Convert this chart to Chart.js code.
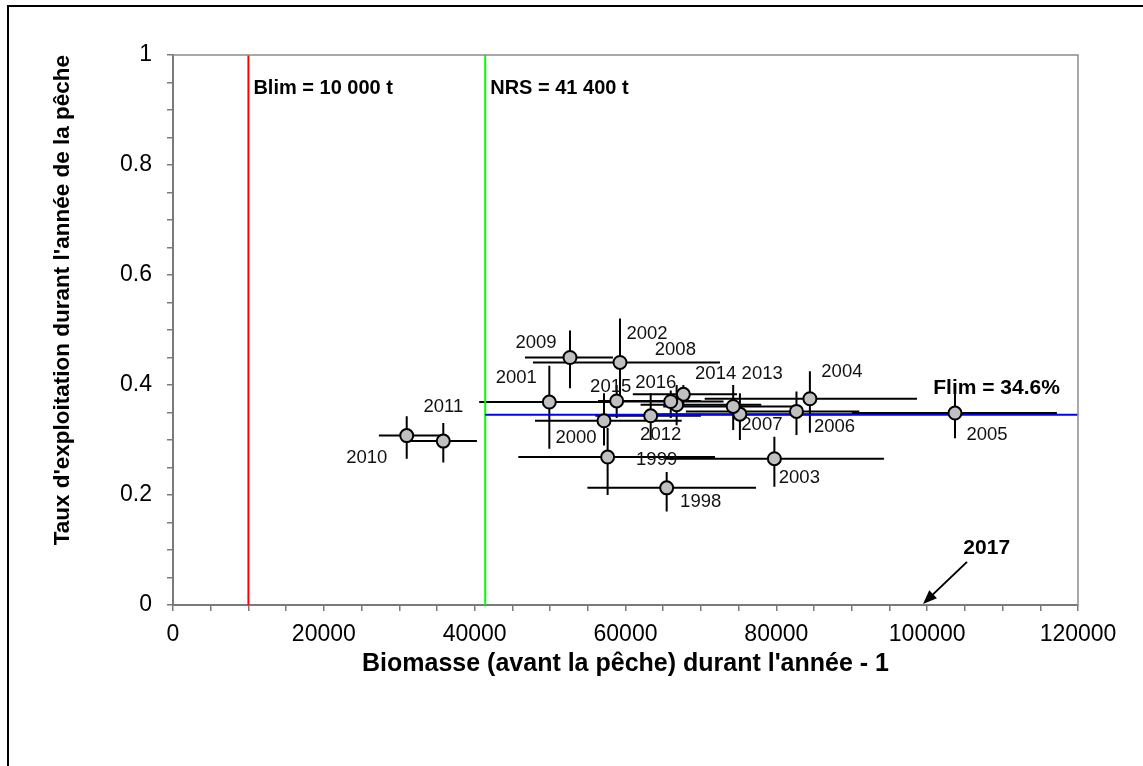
<!DOCTYPE html>
<html>
<head>
<meta charset="utf-8">
<script src="https://cdn.jsdelivr.net/npm/chart.js@4.4.0/dist/chart.umd.min.js"></script>
<style>
  html, body { margin: 0; padding: 0; background: #fff; }
  #wrap { width: 1143px; height: 766px; }
</style>
</head>
<body>
<div id="wrap"><canvas id="grafik" width="1143" height="766"></canvas></div>
<script>
// valeurs
var annees = ['1998', '1999', '2000', '2001', '2002', '2003', '2004', '2005', '2006', '2007',
              '2008', '2009', '2010', '2011', '2012', '2013', '2014', '2015', '2016'];
var biomasse = [65460, 57630, 57150, 49900, 59270, 79740, 84450, 103690, 82670, 75170,
                67670, 52640, 30990, 35840, 63340, 74280, 66780, 58830, 66000];
var taux = [0.213, 0.269, 0.335, 0.369, 0.441, 0.266, 0.375, 0.349, 0.352, 0.347,
            0.383, 0.450, 0.308, 0.298, 0.344, 0.361, 0.364, 0.371, 0.370];
var biomasseBas = [54950, 45790, 48000, 40600, 47730, 65200, 70500, 90000, 68000, 63000,
                   60970, 46670, 27300, 31400, 56000, 65000, 62000, 56350, 59000];
var biomasseHaut = [77300, 71870, 67450, 59300, 72530, 94270, 98650, 117200, 91000, 90000,
                    74780, 58340, 35400, 40300, 70000, 83000, 78000, 70000, 73000];
var tauxBas = [0.170, 0.200, 0.290, 0.284, 0.360, 0.215, 0.313, 0.303, 0.309, 0.300,
               0.360, 0.394, 0.266, 0.259, 0.300, 0.318, 0.327, 0.340, 0.340];
var tauxHaut = [0.242, 0.322, 0.385, 0.435, 0.521, 0.306, 0.425, 0.388, 0.388, 0.385,
                0.400, 0.499, 0.343, 0.331, 0.385, 0.400, 0.400, 0.400, 0.390];

var xTickLabels = ['0', '20000', '40000', '60000', '80000', '100000', '120000'];
var yTickLabels = ['0', '0.2', '0.4', '0.6', '0.8', '1'];

var blim = 10000;
var nrs = 41400;
var flim = 0.346;
var xMax = 120000;
var annee2017 = [99450, 0.002];

// décalage des étiquettes (pixels) par rapport au point
var decalage = [[34, 14], [49, 3], [-28, 17], [-33, -24], [27, -29], [25, 19], [32, -27], [32, 22], [38, 16], [22, 11],
                [-8, -44], [-34, -15], [-40, 22], [0, -34], [10, 19], [29, -33], [39, -31], [-6, -14], [-15, -19]];

var police = "Arial, 'Liberation Sans', sans-serif";

var decor = {
    id: 'decor',
    beforeDraw: function (chart) {
        var ctx = chart.ctx;
        ctx.save();
        ctx.fillStyle = '#fff';
        ctx.fillRect(0, 0, chart.width, chart.height);
        ctx.strokeStyle = '#000';
        ctx.lineWidth = 2;
        ctx.beginPath();
        ctx.moveTo(8, chart.height);
        ctx.lineTo(8, 6);
        ctx.lineTo(chart.width, 6);
        ctx.stroke();
        ctx.restore();
    },
    beforeDatasetsDraw: function (chart) {
        var ctx = chart.ctx;
        var x = chart.scales.x, y = chart.scales.y;
        ctx.save();
        ctx.strokeStyle = '#000';
        ctx.lineWidth = 2;
        for (var i = 0; i < annees.length; i++) {
            var px = x.getPixelForValue(biomasse[i]);
            var py = y.getPixelForValue(taux[i]);
            ctx.beginPath();
            ctx.moveTo(x.getPixelForValue(biomasseBas[i]), py);
            ctx.lineTo(x.getPixelForValue(biomasseHaut[i]), py);
            ctx.moveTo(px, y.getPixelForValue(tauxBas[i]));
            ctx.lineTo(px, y.getPixelForValue(tauxHaut[i]));
            ctx.stroke();
        }
        ctx.restore();
    },
    afterDatasetsDraw: function (chart) {
        var ctx = chart.ctx;
        var x = chart.scales.x, y = chart.scales.y;
        var a = chart.chartArea;
        ctx.save();
        // cadre haut et droit
        ctx.strokeStyle = '#8c8c8c';
        ctx.lineWidth = 1.5;
        ctx.beginPath();
        ctx.moveTo(a.left, a.top);
        ctx.lineTo(a.right, a.top);
        ctx.lineTo(a.right, a.bottom);
        ctx.stroke();

        // étiquettes des années
        ctx.fillStyle = '#111';
        ctx.font = '18.5px ' + police;
        ctx.textAlign = 'center';
        ctx.textBaseline = 'middle';
        for (var i = 0; i < annees.length; i++) {
            ctx.fillText(annees[i],
                x.getPixelForValue(biomasse[i]) + decalage[i][0],
                y.getPixelForValue(taux[i]) + decalage[i][1]);
        }

        // annotations
        ctx.fillStyle = '#000';
        ctx.font = 'bold 20px ' + police;
        ctx.textAlign = 'left';
        ctx.fillText('Blim = 10 000 t', x.getPixelForValue(blim) + 5, y.getPixelForValue(0.94));
        ctx.fillText('NRS = 41 400 t', x.getPixelForValue(nrs) + 5, y.getPixelForValue(0.94));
        ctx.font = 'bold 21px ' + police;
        ctx.textAlign = 'right';
        ctx.fillText('Flim = 34.6%', x.getPixelForValue(117600), y.getPixelForValue(0.395));
        ctx.textAlign = 'left';
        ctx.fillText('2017', x.getPixelForValue(104800), y.getPixelForValue(0.104));

        // flèche 2017
        var tx = x.getPixelForValue(annee2017[0]), ty = y.getPixelForValue(annee2017[1]);
        var sx = tx + 44, sy = ty - 42;
        var ang = Math.atan2(ty - sy, tx - sx);
        ctx.strokeStyle = '#000';
        ctx.lineWidth = 2;
        ctx.beginPath();
        ctx.moveTo(sx, sy);
        ctx.lineTo(tx - Math.cos(ang) * 8, ty - Math.sin(ang) * 8);
        ctx.stroke();
        ctx.beginPath();
        ctx.moveTo(tx, ty);
        ctx.lineTo(tx - Math.cos(ang - 0.38) * 15, ty - Math.sin(ang - 0.38) * 15);
        ctx.lineTo(tx - Math.cos(ang + 0.38) * 15, ty - Math.sin(ang + 0.38) * 15);
        ctx.closePath();
        ctx.fillStyle = '#000';
        ctx.fill();
        ctx.restore();
    }
};

var ctx = document.getElementById('grafik');
new Chart(ctx, {
    type: 'scatter',
    data: {
        datasets: [{
            label: 'Années',
            data: biomasse.map(function (v, i) { return {x: v, y: taux[i]}; }),
            backgroundColor: '#c0c0c0',
            borderColor: '#000',
            borderWidth: 2,
            pointRadius: 6.5,
            order: 0
        }, {
            label: 'Flim',
            type: 'line',
            data: [{x: nrs, y: flim}, {x: xMax, y: flim}],
            borderColor: '#0000ff',
            borderWidth: 2,
            pointRadius: 0,
            order: 1
        }, {
            label: 'Blim',
            type: 'line',
            data: [{x: blim, y: 0}, {x: blim, y: 1}],
            borderColor: '#ff0000',
            borderWidth: 2,
            pointRadius: 0,
            order: 2
        }, {
            label: 'NRS',
            type: 'line',
            data: [{x: nrs, y: 0}, {x: nrs, y: 1}],
            borderColor: '#00ff00',
            borderWidth: 2,
            pointRadius: 0,
            order: 2
        }]
    },
    options: {
        responsive: false,
        animation: false,
        devicePixelRatio: 1,
        layout: { padding: { left: 0, top: 55, right: 65, bottom: 0 } },
        plugins: { legend: { display: false }, tooltip: { enabled: false } },
        scales: {
            x: {
                type: 'linear',
                min: 0,
                max: xMax,
                afterFit: function (s) { s.height = 161; },
                border: { color: '#7a7a7a', width: 2 },
                grid: { drawOnChartArea: false, tickLength: 6, color: '#7a7a7a', lineWidth: 1.5 },
                ticks: {
                    stepSize: 5000,
                    autoSkip: false,
                    maxRotation: 0,
                    padding: 10,
                    color: '#000',
                    font: { family: police, size: 23 },
                    callback: function (v) { return v % 20000 === 0 ? xTickLabels[v / 20000] : ''; }
                },
                title: {
                    display: true,
                    text: "Biomasse (avant la pêche) durant l'année - 1",
                    color: '#000',
                    font: { family: police, size: 25, weight: 'bold' },
                    padding: { top: 0, bottom: 87 }
                }
            },
            y: {
                type: 'linear',
                min: 0,
                max: 1,
                afterFit: function (s) { s.width = 173; },
                border: { color: '#7a7a7a', width: 2 },
                grid: { drawOnChartArea: false, tickLength: 6, color: '#7a7a7a', lineWidth: 1.5 },
                ticks: {
                    stepSize: 0.05,
                    autoSkip: false,
                    padding: 15,
                    color: '#000',
                    font: { family: police, size: 23 },
                    callback: function (v, i) { return i % 4 === 0 ? yTickLabels[i / 4] : ''; }
                },
                title: {
                    display: true,
                    text: "Taux d'exploitation durant l'année de la pêche",
                    align: 'end',
                    color: '#000',
                    font: { family: police, size: 22.5, weight: 'bold' },
                    padding: { top: 49, bottom: 0 }
                }
            }
        }
    },
    plugins: [decor]
});
</script>
</body>
</html>
